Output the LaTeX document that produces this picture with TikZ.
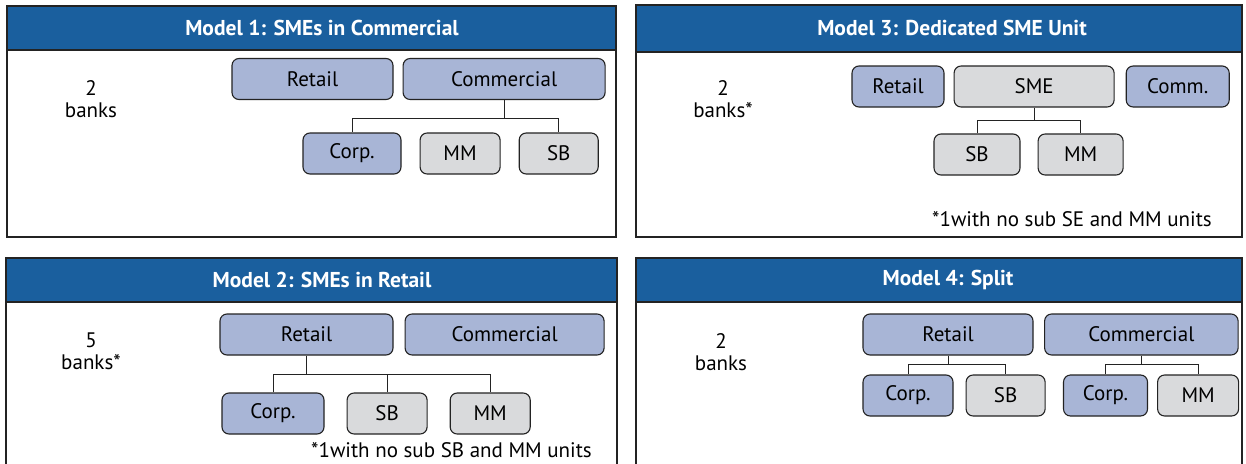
\documentclass[tikz,border=0pt]{standalone}
\usepackage{fontspec}
\setmainfont{PT Sans}
\usetikzlibrary{positioning}
\definecolor{hdrblue}{RGB}{26,95,158}
\definecolor{unitblue}{RGB}{168,181,214}
\definecolor{unitgray}{RGB}{217,218,220}
\definecolor{edge}{RGB}{35,35,35}

\tikzset{
    panel/.style={draw=edge, line width=1.5pt, fill=white},
    header/.style={draw=edge, line width=1.5pt, fill=hdrblue},
    title/.style={text=white, font=\bfseries\fontsize{21.5}{25}\selectfont},
    unit/.style={draw=edge, line width=1.1pt, rounded corners=7pt, inner sep=0pt,
        minimum height=41pt, fill=unitblue, font=\fontsize{21}{24}\selectfont},
    subunit/.style={unit, fill=unitgray},
    link/.style={draw=edge, line width=1pt},
    count/.style={align=center, font=\fontsize{21}{22}\selectfont},
    note/.style={anchor=east, inner sep=1pt, font=\fontsize{21}{24}\selectfont}
}

\begin{document}
\begin{tikzpicture}[x=1pt,y=-1pt]
        \useasboundingbox (0,0) rectangle (1246,463);
        \clip (0,0) rectangle (1246,463);

        % panel frames
        \draw[panel] (7,6) rectangle (616,237);
        \draw[header] (7,6) rectangle (616,50);
        \draw[panel] (636,5) rectangle (1242,237);
        \draw[header] (636,5) rectangle (1242,52);
        \draw[panel] (6,258) rectangle (617,475);
        \draw[header] (6,258) rectangle (617,302);
        \draw[panel] (636,258) rectangle (1242,475);
        \draw[header] (636,258) rectangle (1242,302);

        % Model 1
        \node[title] (t1) at (322,28) {Model 1: SMEs in Commercial};
        \node[count] (n1) at (91,99) {2\\banks};
        \node[unit, minimum width=161pt] (r1) at (312.5,79) {Retail};
        \node[unit, minimum width=202pt, right=9pt of r1] (c1) {Commercial};
        \node[unit, minimum width=98pt] (k1) at (352,153.5) {Corp.};
        \node[subunit, minimum width=80pt, right=18pt of k1] (m1) {MM};
        \node[subunit, minimum width=79pt, right=18pt of m1] (s1) {SB};
        \draw[link] (c1.south) -- ++(0,18) coordinate (j1);
        \draw[link] (k1.north) |- (j1) -| (s1.north);

        % Model 3
        \node[title] (t3) at (952,28) {Model 3: Dedicated SME Unit};
        \node[count] (n3) at (723,99) {2\\banks*};
        \node[unit, minimum width=92pt] (r3) at (898,86.5) {Retail};
        \node[subunit, minimum width=160pt, right=9pt of r3] (e3) {SME};
        \node[unit, minimum width=103pt, right=11pt of e3] (c3) {Comm.};
        \node[subunit, minimum width=86pt] (s3) at (977,154.5) {SB};
        \node[subunit, minimum width=85pt, right=17pt of s3] (m3) {MM};
        \draw[link] (e3.south) -- ++(0,13) coordinate (j3);
        \draw[link] (s3.north) |- (j3) -| (m3.north);
        \node[note] (f3) at (1213,219) {*1with no sub SE and MM units};

        % Model 2
        \node[title] (t2) at (322,280) {Model 2: SMEs in Retail};
        \node[count] (n2) at (91,351) {5\\banks*};
        \node[unit, minimum width=173pt] (r2) at (306.5,334.5) {Retail};
        \node[unit, minimum width=199pt, right=11pt of r2] (c2) {Commercial};
        \node[unit, minimum width=102pt] (k2) at (273,413.5) {Corp.};
        \node[subunit, minimum width=80pt, right=22pt of k2] (s2) {SB};
        \node[subunit, minimum width=80pt, right=22pt of s2] (m2) {MM};
        \draw[link] (r2.south) -- ++(0,19) coordinate (j2);
        \draw[link] (k2.north) |- (j2) -| (m2.north);
        \draw[link] (s2.north) -- (s2.north |- j2);
        \node[note] (f2) at (593,450) {*1with no sub SB and MM units};

        % Model 4
        \node[title] (t4) at (948,280) {Model 4: Split};
        \node[count] (n4) at (721,352) {2\\banks};
        \node[unit, minimum width=170pt] (r4) at (948,334.5) {Retail};
        \node[unit, minimum width=193.5pt, right=10.5pt of r4] (c4) {Commercial};
        \node[unit, minimum width=90pt] (k4) at (908,395.5) {Corp.};
        \node[subunit, minimum width=79pt, right=12pt of k4] (s4) {SB};
        \node[unit, minimum width=84pt] (q4) at (1105.5,395.5) {Corp.};
        \node[subunit, minimum width=81pt, right=9pt of q4] (m4) {MM};
        \draw[link] (r4.south) -- ++(0,9) coordinate (j4);
        \draw[link] (k4.north) |- (j4) -| (s4.north);
        \draw[link] (c4.south) -- ++(0,9) coordinate (j5);
        \draw[link] (q4.north) |- (j5) -| (m4.north);
\end{tikzpicture}
\end{document}
